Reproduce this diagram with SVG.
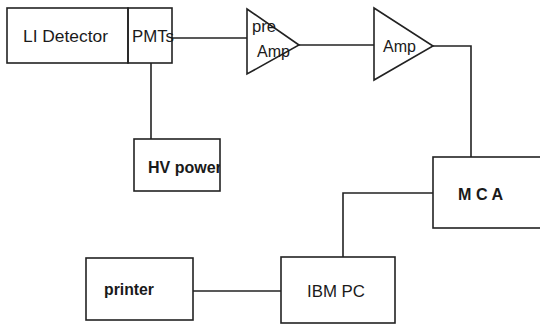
<svg xmlns="http://www.w3.org/2000/svg" width="540" height="325" viewBox="0 0 540 325">
<defs>
<style>
.box{fill:none;stroke:#222;stroke-width:1.6}
.ln{fill:none;stroke:#222;stroke-width:1.6}
text{font-family:"Liberation Sans",Arial,sans-serif;font-size:16px;fill:#1a1a1a}
.b{font-weight:bold}
</style>
<clipPath id="hvclip"><rect x="134" y="139" width="86" height="52"/></clipPath>
</defs>
<rect width="540" height="325" fill="#fff"/>
<g id="connectors">
<polyline class="ln" points="172,38 247,38"/>
<polyline class="ln" points="299,45 374,45"/>
<polyline class="ln" points="433,46 471,46 471,157"/>
<polyline class="ln" points="151,63 151,139"/>
<polyline class="ln" points="433,193 343,193 343,257"/>
<polyline class="ln" points="193,291 281,291"/>
</g>
<g id="li-detector">
<rect class="box" x="7" y="8" width="121" height="55"/>
<text x="23" y="42" textLength="85" lengthAdjust="spacingAndGlyphs">LI Detector</text>
</g>
<g id="pmts">
<rect class="box" x="128" y="8" width="44" height="55"/>
<text x="132" y="42" textLength="42" lengthAdjust="spacingAndGlyphs">PMTs</text>
</g>
<g id="pre-amp">
<polygon class="box" points="247,9 299,45 247,74"/>
<text x="252" y="32" textLength="24" lengthAdjust="spacingAndGlyphs">pre</text>
<text x="257" y="57" textLength="33" lengthAdjust="spacingAndGlyphs">Amp</text>
</g>
<g id="amp">
<polygon class="box" points="374,8 433,46 374,80"/>
<text x="383" y="52" textLength="33" lengthAdjust="spacingAndGlyphs">Amp</text>
</g>
<g id="hv-power">
<rect class="box" x="134" y="139" width="86" height="52"/>
<text class="b" x="148" y="173" clip-path="url(#hvclip)">HV power</text>
</g>
<g id="mca">
<rect class="box" x="433" y="157" width="110" height="71"/>
<text class="b" x="458" y="200" textLength="45" lengthAdjust="spacingAndGlyphs">M C A</text>
</g>
<g id="ibm-pc">
<rect class="box" x="281" y="257" width="114" height="66"/>
<text x="307" y="297" textLength="58" lengthAdjust="spacingAndGlyphs">IBM PC</text>
</g>
<g id="printer">
<rect class="box" x="86" y="258" width="107" height="62"/>
<text class="b" x="104" y="295" textLength="50" lengthAdjust="spacingAndGlyphs">printer</text>
</g>
</svg>
